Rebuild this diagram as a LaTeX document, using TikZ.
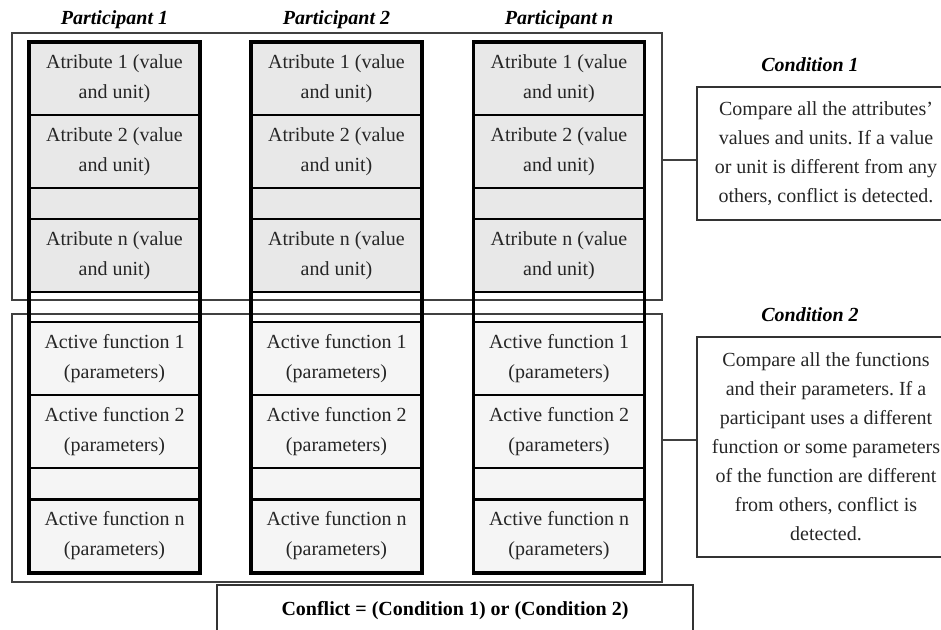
\documentclass[tikz,border=0pt]{standalone}
\usepackage{fontspec}
\setmainfont{Liberation Serif}
\frenchspacing
\begin{document}
\begin{tikzpicture}[x=0.5pt, y=-0.5pt,
  every node/.style={font=\fontsize{10}{15}\selectfont, inner sep=0pt},
  head/.style={font=\fontsize{10}{12}\selectfont\bfseries\itshape},
  groupbox/.style={draw=black!75, line width=0.8pt, minimum width=325pt},
  colbox/.style={draw, line width=1.6pt, minimum width=85.5pt, minimum height=265.5pt},
  attrcell/.style={draw, line width=1pt, fill=black!9, text=black!85, align=center, minimum width=85.5pt, minimum height=36.5pt},
  funccell/.style={attrcell, fill=black!4},
  blankattr/.style={attrcell, minimum height=15.5pt},
  blankfunc/.style={funccell, minimum height=15.5pt},
  condbox/.style={draw=black!80, line width=0.9pt, text=black!85, align=center, minimum width=129pt, font=\fontsize{10}{14.5}\selectfont}]
\clip (0, 0) rectangle (941, 630);
\useasboundingbox (0, 0) rectangle (941, 630);
% the two groups that are compared
\node (attrs) at (337, 166.5) [groupbox, minimum height=133.5pt] {};
\node (funcs) at (337, 448) [groupbox, minimum height=134pt] {};
\node (h1) at (114.5, 20) [head] {Participant 1};
\node (h2) at (336.5, 20) [head] {Participant 2};
\node (hn) at (559, 20) [head] {Participant n};
% participant 1
\node (p1a1) at (114.5, 78.5) [attrcell] {Atribute 1 (value\\and unit)};
\node (p1a2) at (114.5, 151.5) [attrcell] {Atribute 2 (value\\and unit)};
\node (p1ae) at (114.5, 203.5) [blankattr] {};
\node (p1an) at (114.5, 255.5) [attrcell] {Atribute n (value\\and unit)};
\node (p1f1) at (114.5, 358.5) [funccell] {Active function 1\\(parameters)};
\node (p1f2) at (114.5, 431.5) [funccell] {Active function 2\\(parameters)};
\node (p1fe) at (114.5, 483.5) [blankfunc] {};
\node (p1fn) at (114.5, 536) [funccell] {Active function n\\(parameters)};
\node (p1) at (114.5, 307.5) [colbox] {};
% participant 2
\node (p2a1) at (336.5, 78.5) [attrcell] {Atribute 1 (value\\and unit)};
\node (p2a2) at (336.5, 151.5) [attrcell] {Atribute 2 (value\\and unit)};
\node (p2ae) at (336.5, 203.5) [blankattr] {};
\node (p2an) at (336.5, 255.5) [attrcell] {Atribute n (value\\and unit)};
\node (p2f1) at (336.5, 358.5) [funccell] {Active function 1\\(parameters)};
\node (p2f2) at (336.5, 431.5) [funccell] {Active function 2\\(parameters)};
\node (p2fe) at (336.5, 483.5) [blankfunc] {};
\node (p2fn) at (336.5, 536) [funccell] {Active function n\\(parameters)};
\node (p2) at (336.5, 307.5) [colbox] {};
% participant n
\node (pna1) at (559, 78.5) [attrcell] {Atribute 1 (value\\and unit)};
\node (pna2) at (559, 151.5) [attrcell] {Atribute 2 (value\\and unit)};
\node (pnae) at (559, 203.5) [blankattr] {};
\node (pnan) at (559, 255.5) [attrcell] {Atribute n (value\\and unit)};
\node (pnf1) at (559, 358.5) [funccell] {Active function 1\\(parameters)};
\node (pnf2) at (559, 431.5) [funccell] {Active function 2\\(parameters)};
\node (pnfe) at (559, 483.5) [blankfunc] {};
\node (pnfn) at (559, 536) [funccell] {Active function n\\(parameters)};
\node (pn) at (559, 307.5) [colbox] {};
% conditions
\node (c1head) at (810, 65) [head] {Condition 1};
\node (cond1) at (826, 153.5) [condbox, minimum height=66.5pt] {Compare all the attributes'\\values and units. If a value\\or unit is different from any\\others, conflict is detected.};
\node (c2head) at (810, 315) [head] {Condition 2};
\node (cond2) at (826, 447) [condbox, minimum height=110pt] {Compare all the functions\\and their parameters. If a\\participant uses a different\\function or some parameters\\of the function are different\\from others, conflict is\\detected.};
\coordinate (link1) at (680, 160);
\coordinate (link2) at (680, 440);
\draw [line width=0.7pt, black!75] (attrs.east |- link1) -- (cond1.west |- link1) (funcs.east |- link2) -- (cond2.west |- link2);
% result
\node (result) at (455, 610.5) [draw=black!80, line width=0.7pt, minimum width=238pt, minimum height=25.5pt, font=\fontsize{10}{12}\selectfont\bfseries] {Conflict = (Condition 1) or (Condition 2)};
\end{tikzpicture}
\end{document}
